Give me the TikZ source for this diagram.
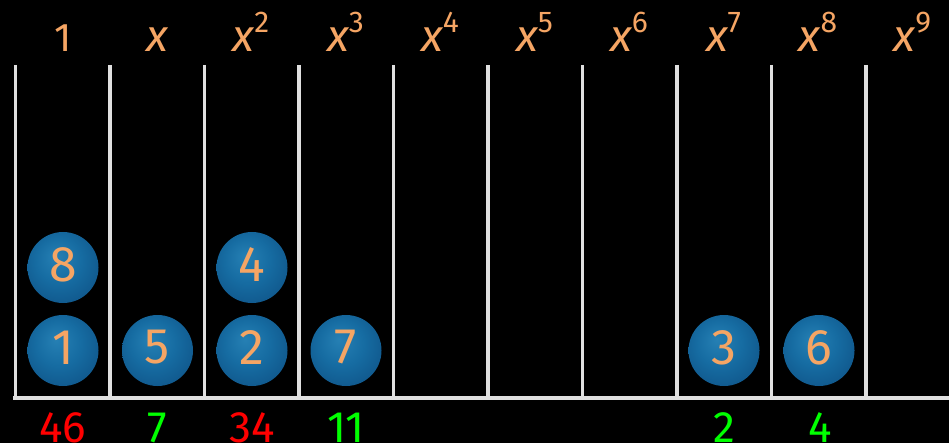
\documentclass[tikz,border=0pt]{standalone}
\usepackage{fontspec}
\setmainfont{Fira Sans}
\definecolor{lbl}{RGB}{245,165,100}
\definecolor{railgray}{RGB}{224,224,224}
\definecolor{negc}{RGB}{255,0,0}
\definecolor{posc}{RGB}{0,255,0}
\definecolor{bA}{RGB}{38,128,180}
\definecolor{bB}{RGB}{22,108,162}
\definecolor{bC}{RGB}{14,80,132}
\definecolor{bD}{RGB}{8,42,88}
\pgfdeclareradialshading{beadshade}{\pgfpoint{-5bp}{8bp}}{color(0bp)=(bA); color(16bp)=(bB); color(36bp)=(bC); color(47bp)=(bD); color(50bp)=(bD)}
\newcommand\xvar{{\fontsize{45}{45}\selectfont\itshape x}}
\newcommand\xpow[1]{\xvar\raisebox{19pt}{\fontsize{30}{30}\selectfont #1}}
\begin{document}
\begin{tikzpicture}[x=1pt,y=-1pt,
  hdr/.style={text=lbl, font=\fontsize{40}{40}\selectfont, anchor=base, inner sep=0pt},
  bead/.style={circle, minimum size=71pt, inner sep=0pt, shading=beadshade},
  beadnum/.style={text=lbl, font=\fontsize{50}{50}\selectfont, inner sep=0pt},
  tally/.style={font=\fontsize{44}{44}\selectfont, anchor=base, inner sep=0pt},
  railline/.style={draw=railgray, line width=3.5pt}]
\fill[black] (0,0) rectangle (949,443);
\useasboundingbox (0,0) rectangle (949,443);
% rails
\foreach \k in {0,...,9}{
  \coordinate (t\k) at (15.7+94.5*\k,65);
  \coordinate (u\k) at (15.7+94.5*\k,398);
  \draw[railline] (t\k) -- (u\k);
}
\coordinate (bl) at (13,398);
\coordinate (br) at (949,398);
\draw[railline] (bl) -- (br);
% headers
\node[hdr] (h0) at (63,52) {1};
\node[hdr] (h1) at (157.5,52) {\xvar};
\node[hdr] (h2) at (251,52) {\xpow{2}};
\node[hdr] (h3) at (345.5,52) {\xpow{3}};
\node[hdr] (h4) at (440,52) {\xpow{4}};
\node[hdr] (h5) at (534.5,52) {\xpow{5}};
\node[hdr] (h6) at (629,52) {\xpow{6}};
\node[hdr] (h7) at (723.5,52) {\xpow{7}};
\node[hdr] (h8) at (818,52) {\xpow{8}};
\node[hdr] (h9) at (912.5,52) {\xpow{9}};
% beads
\foreach \n/\cx/\cy in {b1/63/350.5, b8/63/267.5, b5/157.5/350.5, b2/252/350.5, b4/252/267.5, b7/346/350.5, b3/724/350.5, b6/819/350.5}{
  \node[bead] (\n) at (\cx,\cy) {};
}
\node[beadnum] at ([yshift=3pt]b1.center) {1};
\node[beadnum] at ([yshift=3pt]b8.center) {8};
\node[beadnum] at ([yshift=3pt]b5.center) {5};
\node[beadnum] at ([yshift=3pt]b2.center) {2};
\node[beadnum] at ([yshift=3pt]b4.center) {4};
\node[beadnum] at ([yshift=3pt]b7.center) {7};
\node[beadnum] at ([yshift=3pt]b3.center) {3};
\node[beadnum] at ([yshift=3pt]b6.center) {6};
% tallies
\node[tally, text=negc] (s0) at (62.5,442) {46};
\node[tally, text=posc] (s1) at (157.5,442) {7};
\node[tally, text=negc] (s2) at (252,442) {34};
\node[tally, text=posc] (s3) at (346,442) {11};
\node[tally, text=posc] (s7) at (724,442) {2};
\node[tally, text=posc] (s8) at (820,442) {4};
\end{tikzpicture}
\end{document}
